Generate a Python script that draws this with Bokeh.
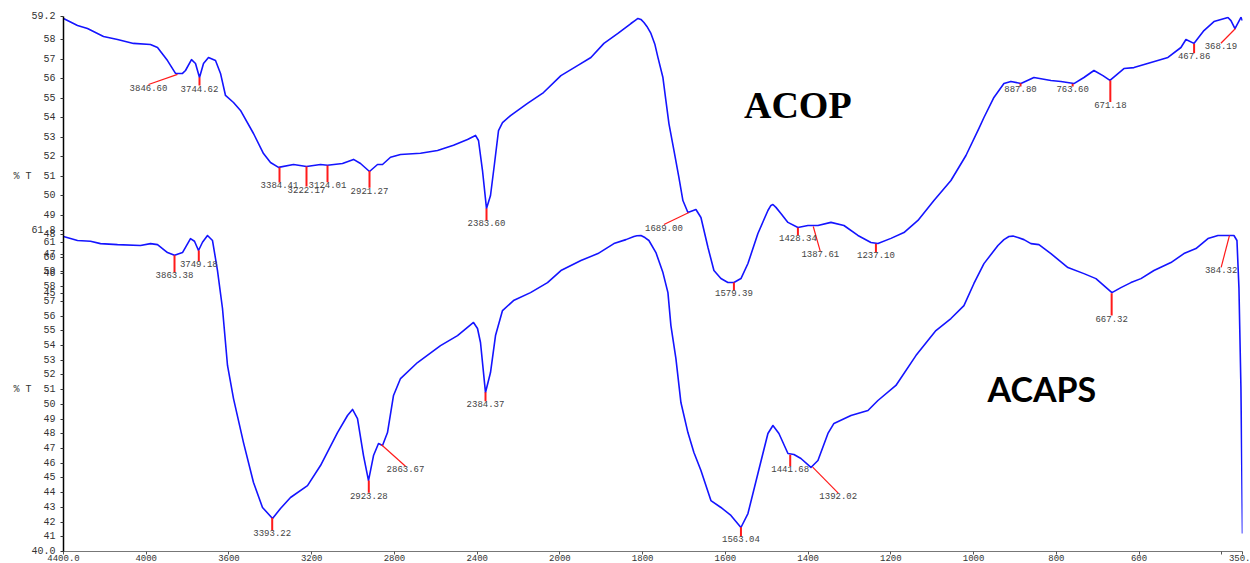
import numpy as np
from bokeh.plotting import figure
from bokeh.models import Range1d, FixedTicker, Label
from bokeh.core.properties import value
from bokeh.embed import file_html
from bokeh.resources import INLINE

# ---------------- data ----------------
acop_wn = [4400, 4332.3, 4284, 4206.6, 4138.9, 4061.6, 3979.4, 3945.5, 3897.2, 3858.5,
           3824.7, 3810.2, 3781.2, 3761.8, 3742.5, 3723.1, 3699, 3665.1, 3640.9, 3616.8,
           3578.1, 3544.3, 3481.4, 3433.1, 3399.2, 3360.5, 3288, 3225.2, 3157.5, 3123.6,
           3051.1, 2997.9, 2964.1, 2920.6, 2881.9, 2857.7, 2819.1, 2770.7, 2674, 2591.8,
           2514.5, 2446.8, 2408.1, 2393.6, 2374.3, 2354.9, 2335.6, 2316.2, 2296.9, 2277.6,
           2238.9, 2156.7, 2079.3, 1997.6, 1956.5, 1925.1, 1893.6, 1859.8, 1828.4, 1818.7,
           1811.4, 1804.2, 1796.9, 1789.7, 1780, 1770.3, 1763.1, 1751, 1743.8, 1736.5,
           1724.4, 1712.3, 1702.7, 1690.6,
           1671.2, 1659.1, 1642.1, 1627.7, 1610.8, 1593.9, 1579.4, 1562.4, 1545.5, 1521.4,
           1497.2, 1489.9, 1485.1, 1477.8, 1465.8, 1448.8, 1424.7, 1400.5, 1376.3, 1344.9,
           1313.4, 1279.6,
           1248.2, 1231.3, 1199.8, 1168.4, 1134.6, 1095.9, 1054.8, 1018.5, 987.1, 975,
           950.9, 926.7, 909.8, 885.6, 854.2, 813.1, 788.9, 757.5, 733.3, 709.1,
           687.4, 670.4, 636.6, 612.4, 571.3, 530.2, 498.8, 486.7, 467.4, 443.2,
           419.0, 385.2, 377.9, 368.2, 353.7, 350]
acop_t = [59.10, 58.74, 58.58, 58.17, 58.02, 57.82, 57.76, 57.61, 56.94, 56.28,
          56.28, 56.43, 56.99, 56.79, 56.07, 56.79, 57.10, 56.94, 56.28, 55.15,
          54.79, 54.38, 53.20, 52.17, 51.71, 51.46, 51.61, 51.51, 51.61, 51.57,
          51.66, 51.87, 51.66, 51.25, 51.61, 51.61, 51.98, 52.12, 52.19, 52.33,
          52.60, 52.89, 53.10, 52.84, 51.30, 49.35, 50.02, 51.66, 53.35, 53.76,
          54.12, 54.74, 55.30, 56.17, 56.69, 57.10, 57.82, 58.33, 58.84, 58.99,
          59.10, 59.05, 58.89, 58.69, 58.33, 57.76, 57.10, 56.07, 54.89, 53.71,
          52.33, 50.94, 49.76, 49.15,
          49.30, 48.89, 47.35, 46.17, 45.76, 45.56, 45.56, 45.76, 46.53, 48.07,
          49.25, 49.51, 49.56, 49.41, 49.10, 48.64, 48.38, 48.48, 48.48, 48.64,
          48.48, 47.97,
          47.61, 47.56, 47.82, 48.12, 48.74, 49.76, 50.79, 52.07, 53.46, 54.02,
          55.05, 55.76, 55.87, 55.76, 56.07, 55.92, 55.87, 55.76, 56.07, 56.43,
          56.17, 55.92, 56.53, 56.58, 56.84, 57.10, 57.61, 58.02, 57.82, 58.48,
          58.94, 59.15, 58.99, 58.58, 59.15, 58.99]

acaps_wn = [4400, 4332.3, 4269.5, 4221.1, 4138.9, 4027.7, 3979.4, 3945.5, 3897.2, 3863.3,
            3824.7, 3786, 3766.7, 3747.3, 3728, 3703.8, 3679.6, 3655.5, 3631.3, 3607.1,
            3578.1, 3529.8, 3481.4, 3437.9, 3389.5, 3350.9, 3302.5, 3220.3, 3157.5, 3075.3,
            3026.9, 3002.7, 2978.6, 2949.6, 2925.4, 2901.2, 2877.1, 2857.7, 2833.6, 2804.5,
            2770.7, 2688.5, 2577.3, 2495.1, 2417.8, 2398.4, 2384, 2359.8, 2335.6, 2311.4,
            2277.6, 2224.4, 2142.2, 2060.0, 1997.6, 1949.2, 1908.1, 1869.5, 1840.4, 1821.1,
            1813.9, 1804.2, 1794.5,
            1784.9, 1767.9, 1751.0, 1738.9, 1731.7, 1719.6, 1707.5, 1690.6, 1676.1, 1659.1,
            1635, 1610.8, 1586.6, 1562.4, 1545.5, 1521.4, 1497.2, 1485.1, 1470.6, 1448.8,
            1434.3, 1417.4, 1393.2, 1376.3, 1352.1, 1337.6, 1296.5, 1255.4, 1231.3, 1187.8,
            1139.5, 1091.1, 1054.8, 1023.4, 999.2, 975, 941.2, 926.7, 914.6, 904.9,
            892.8, 878.3, 861.4,
            842.1, 813.1, 772.0, 733.3, 704.3, 665.6, 643.9, 619.7, 595.5, 564.1,
            523.0, 491.6, 462.5, 433.5, 409.3, 385.2, 370.7, 363.4, 358.6, 353.8,
            351.2, 350]
acaps_t = [61.40, 61.13, 61.08, 60.92, 60.85, 60.79, 60.92, 60.85, 60.31, 60.13,
           60.31, 61.26, 61.08, 60.45, 61.01, 61.47, 61.13, 59.09, 56.51, 52.64,
           50.39, 47.40, 44.69, 42.99, 42.24, 42.92, 43.67, 44.48, 45.84, 48.08,
           49.24, 49.65, 49.03, 46.52, 44.82, 46.52, 47.34, 47.20, 48.08, 50.60,
           51.75, 52.84, 53.99, 54.67, 55.56, 55.15, 54.20, 50.80, 52.16, 54.67,
           56.37, 57.05, 57.59, 58.27, 59.09, 59.77, 60.24, 60.92, 61.19, 61.40,
           61.45, 61.47, 61.33,
           61.13, 60.31, 58.95, 57.59, 55.35, 53.11, 50.12, 48.08, 46.73, 45.50,
           43.46, 42.99, 42.45, 41.63, 42.58, 45.30, 48.02, 48.56, 48.02, 46.66,
           46.59, 46.32, 45.71, 46.18, 48.02, 48.70, 49.24, 49.58, 50.26, 51.28,
           53.31, 55.01, 55.83, 56.71, 58.21, 59.56, 60.79, 61.19, 61.40, 61.43,
           61.33, 61.19, 60.92,
           60.85, 60.24, 59.29, 58.88, 58.54, 57.59, 57.93, 58.27, 58.54, 59.09,
           59.63, 60.24, 60.58, 61.26, 61.47, 61.47, 61.47, 61.13, 57.93, 51.14,
           44.35, 41.22]

acop_peak_text = ["3846.60", "3744.62", "3384.41", "3222.17", "3124.01", "2921.27", "2383.60",
                  "1689.00", "1579.39", "1428.34", "1387.61", "1237.10", "887.80", "763.60",
                  "671.18", "467.86", "368.19"]
acop_peak_wn = [3848.8, 3742.5, 3355.7, 3225.2, 3123.6, 2920.6, 2354.9, 1688.2, 1579.4,
                1424.7, 1387.6, 1236.1, 886.6, 760.6, 669.5, 467.0, 367.6]
acop_peak_t = [56.23, 56.07, 51.46, 51.51, 51.56, 51.27, 49.35, 49.15, 45.56, 48.37, 48.43,
               47.54, 55.78, 55.75, 55.92, 57.80, 58.57]
acop_tag_wn = [3989.0, 3742.5, 3355.7, 3225.2, 3123.6, 2920.6, 2354.9, 1748.6, 1579.4,
               1424.7, 1370.6, 1236.1, 886.6, 760.6, 669.5, 467.0, 402.2]
acop_tag_t = [55.71, 55.66, 50.69, 50.48, 50.70, 50.42, 48.74, 48.53, 45.15, 47.97, 47.15,
              47.11, 55.61, 55.61, 54.81, 57.32, 57.83]

acaps_peak_text = ["3863.38", "3749.18", "3393.22", "2923.28", "2863.67", "2384.37", "1563.04",
                   "1441.68", "1392.02", "667.32", "384.32"]
acaps_peak_wn = [3863.3, 3745.9, 3391.0, 2924.0, 2864.1, 2359.8, 1562.4, 1443.3, 1389.1, 666.3, 381.5]
acaps_peak_t = [60.13, 60.45, 42.29, 44.82, 47.27, 50.82, 41.65, 46.57, 45.73, 57.55, 61.47]
acaps_tag_wn = [3863.3, 3745.9, 3391.0, 2924.0, 2746.6, 2359.8, 1562.4, 1443.3, 1327.2, 666.3, 401.6]
acaps_tag_t = [58.97, 59.72, 41.43, 43.99, 45.79, 50.21, 41.02, 45.79, 43.97, 56.03, 59.31]

x_tick_wn = [4400, 4000, 3600, 3200, 2800, 2400, 2000, 1800, 1600, 1400, 1200, 1000, 800, 600, 400, 350]
x_tick_text = ["4400.0", "4000", "3600", "3200", "2800", "2400", "2000", "1800", "1600", "1400",
               "1200", "1000", "800", "600", "", "350."]
acop_y_ticks = [59.2, 58, 57, 56, 55, 54, 53, 52, 51, 50, 49, 48, 47, 46, 45]
acop_y_text = ["59.2", "58", "57", "56", "55", "54", "53", "52", "51", "50", "49", "48", "47", "46", "45"]
acaps_y_ticks = [40, 41, 42, 43, 44, 45, 46, 47, 48, 49, 50, 51, 52, 53, 54, 55, 56, 57, 58, 59, 60, 61, 61.8]
acaps_y_text = ["40.0"] + [str(v) for v in range(41, 62)] + ["61.8"]
y_title = "% T"
y_title_tick = 51          # the "% T" title sits on the row of tick 51 in each panel

# ranges (two stacked spectra share one frame)
ACOP_RANGE = (31.76, 59.2)
ACAPS_RANGE = (40.0, 76.35)


def xu(w):
    """Wavenumber -> plotted position (scale expanded x2 below 2000 cm-1)."""
    w = np.asarray(w, dtype=float)
    return np.where(w >= 2000, 4400 - w, 2400 + (2000 - w) * 2)


def acop_to_axis(v):
    v = np.asarray(v, dtype=float)
    a0, a1 = ACOP_RANGE
    b0, b1 = ACAPS_RANGE
    return b0 + (v - a0) / (a1 - a0) * (b1 - b0)


def with_title(lbl, tick):
    if tick == y_title_tick:
        return y_title + "\u00a0\u00a0" + lbl
    return lbl


p = figure(width=1250, height=563, output_backend="svg", toolbar_location=None,
           x_range=Range1d(float(xu(4400)), float(xu(350))),
           y_range=Range1d(*ACAPS_RANGE),
           min_border_left=63, min_border_right=8, min_border_top=16, min_border_bottom=12)
p.extra_y_ranges = {"acop": Range1d(*ACOP_RANGE)}
p.grid.visible = False
p.outline_line_color = None
p.background_fill_color = "white"

# axes
xpos = [int(v) for v in xu(x_tick_wn)]
p.xaxis.ticker = FixedTicker(ticks=xpos)
p.xaxis.major_label_overrides = dict(zip(xpos, x_tick_text))
p.xaxis.minor_tick_line_color = None
p.xaxis.major_tick_out = 3
p.xaxis.major_tick_in = 0
p.xaxis.axis_line_color = "#777777"
p.xaxis.major_tick_line_color = "#555555"
p.xaxis.major_label_standoff = 0
p.xaxis.major_label_text_font = "Liberation Mono"
p.xaxis.major_label_text_font_size = "9px"
p.xaxis.major_label_text_color = "#333333"

ypos_acop = [round(float(v), 6) for v in acop_to_axis(acop_y_ticks)]
ypos_acaps = [float(v) for v in acaps_y_ticks]
ypos = ypos_acaps + ypos_acop
ytext = ([with_title(l, t) for l, t in zip(acaps_y_text, acaps_y_ticks)] +
         [with_title(l, t) for l, t in zip(acop_y_text, acop_y_ticks)])
p.yaxis.ticker = FixedTicker(ticks=ypos)
p.yaxis.major_label_overrides = dict(zip(ypos, ytext))
p.yaxis.minor_tick_line_color = None
p.yaxis.major_tick_out = 3
p.yaxis.major_tick_in = 0
p.yaxis.axis_line_color = "black"
p.yaxis.axis_line_width = 1.5
p.yaxis.major_tick_line_color = "#333333"
p.yaxis.major_label_standoff = 5
p.yaxis.major_label_text_font = "Liberation Mono"
p.yaxis.major_label_text_font_size = "10px"
p.yaxis.major_label_text_color = "#333333"

# spectra
p.line(xu(acop_wn), acop_t, y_range_name="acop", line_color="#1414ff", line_width=1.6,
       line_join="round")
p.line(xu(acaps_wn), acaps_t, line_color="#1414ff", line_width=1.6, line_join="round")

# peak markers
for wn, t, twn, tt, txt, rng in [
    (acop_peak_wn, acop_peak_t, acop_tag_wn, acop_tag_t, acop_peak_text, "acop"),
    (acaps_peak_wn, acaps_peak_t, acaps_tag_wn, acaps_tag_t, acaps_peak_text, "default"),
]:
    widths = np.where(np.isclose(wn, twn), 2.0, 1.2)
    p.segment(x0=xu(wn), y0=t, x1=xu(twn), y1=tt, line_color="#ff1a1a",
              line_width=widths, y_range_name=rng)
    p.text(x=xu(twn), y=tt, text=txt, text_font=value("Liberation Mono"),
           text_font_size="9px", text_align="center", text_baseline="top",
           text_color="#444444", y_range_name=rng)

# sample labels
p.add_layout(Label(x=float(xu(1425)), y=54.64, y_range_name="acop", text="ACOP",
                   text_font="Liberation Serif", text_font_style="bold", text_font_size="38px",
                   text_align="center", text_baseline="middle", text_color="black"))
p.add_layout(Label(x=float(xu(835)), y=51.07, text="ACAPS",
                   text_font="Lato", text_font_style="bold", text_font_size="34px",
                   text_align="center", text_baseline="middle", text_color="black"))

open("out.html", "w").write(file_html(p, INLINE))
